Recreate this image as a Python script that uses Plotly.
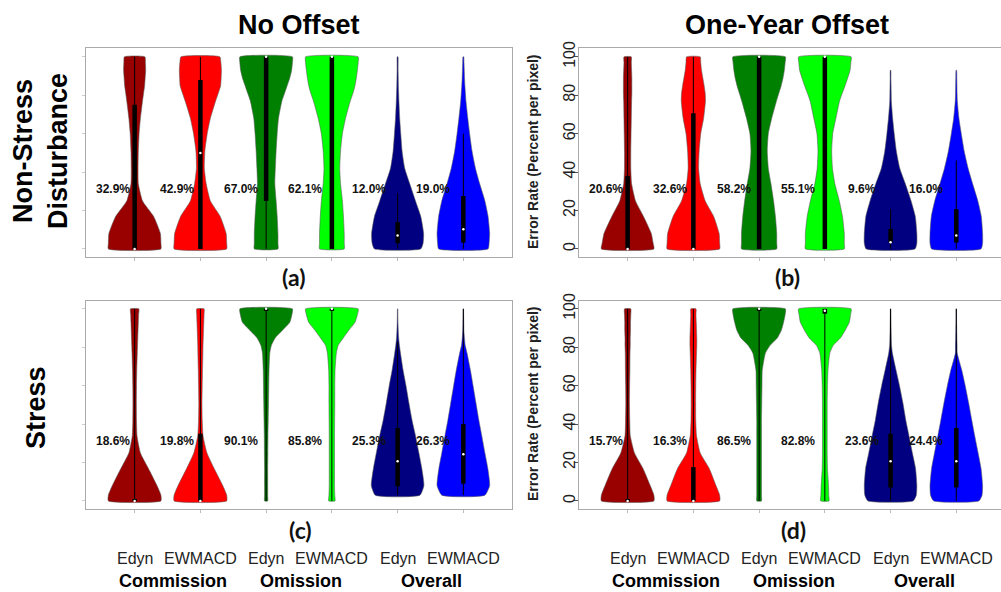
import plotly.graph_objects as go

# ---------------- data ----------------
METHODS = ["Edyn", "EWMACD", "Edyn", "EWMACD", "Edyn", "EWMACD"]
GROUPS = ["Commission", "Omission", "Overall"]
GROUP_POS = [1.58, 3.53, 5.52]
COLORS = ["#990000", "#ff0000", "#008000", "#00ff00", "#000080", "#0000ff"]
COL_TITLES = ["No Offset", "One-Year Offset"]
ROW_TITLES = ["Non-Stress<br>Disturbance", "Stress"]
PANEL_TAGS = ["(a)", "(b)", "(c)", "(d)"]
Y_TICKS = [0, 20, 40, 60, 80, 100]

# density profile levels (error rate, %) and relative half-widths per violin
LEVELS = [0, 3, 8, 17, 25, 34, 42, 51, 60, 68, 77, 81, 85, 89, 93, 97, 100]

WIDTH_A = [
    [1.0, 1.0, 0.98, 0.72, 0.30, 0.14, 0.13, 0.14, 0.17, 0.22, 0.30, 0.34, 0.38, 0.40, 0.42, 0.41, 0.39],
    [1.0, 1.0, 0.98, 0.75, 0.38, 0.22, 0.15, 0.17, 0.26, 0.38, 0.58, 0.68, 0.77, 0.79, 0.80, 0.78, 0.74],
    [0.45, 0.45, 0.45, 0.42, 0.38, 0.33, 0.35, 0.38, 0.42, 0.47, 0.60, 0.70, 0.80, 0.90, 0.97, 1.0, 1.0],
    [0.47, 0.47, 0.47, 0.44, 0.40, 0.33, 0.30, 0.33, 0.40, 0.52, 0.70, 0.80, 0.88, 0.93, 0.97, 1.0, 1.0],
    [0.88, 0.97, 0.99, 0.88, 0.68, 0.46, 0.27, 0.17, 0.12, 0.08, 0.05, 0.04, 0.03, 0.025, 0.02, 0.02, 0.015],
    [0.94, 0.98, 1.0, 0.94, 0.82, 0.62, 0.46, 0.33, 0.24, 0.17, 0.10, 0.08, 0.06, 0.045, 0.035, 0.025, 0.015],
]
WIDTH_B = [
    [1.0, 0.97, 0.90, 0.60, 0.30, 0.15, 0.12, 0.12, 0.13, 0.14, 0.15, 0.16, 0.16, 0.16, 0.15, 0.14, 0.14],
    [1.0, 1.0, 0.98, 0.77, 0.45, 0.26, 0.20, 0.22, 0.28, 0.39, 0.46, 0.45, 0.41, 0.36, 0.31, 0.28, 0.26],
    [0.67, 0.67, 0.67, 0.62, 0.55, 0.45, 0.35, 0.31, 0.35, 0.48, 0.66, 0.75, 0.84, 0.91, 0.96, 0.99, 1.0],
    [0.74, 0.74, 0.74, 0.67, 0.55, 0.38, 0.29, 0.26, 0.30, 0.42, 0.56, 0.66, 0.77, 0.87, 0.96, 0.99, 1.0],
    [0.93, 1.0, 1.0, 0.94, 0.78, 0.56, 0.35, 0.22, 0.14, 0.08, 0.03, 0.025, 0.02, 0.015, 0.01, None, None],
    [0.94, 1.0, 1.0, 0.95, 0.82, 0.62, 0.45, 0.30, 0.19, 0.10, 0.04, 0.03, 0.025, 0.02, 0.01, None, None],
]
WIDTH_C = [
    [1.0, 1.0, 0.85, 0.52, 0.22, 0.09, 0.07, 0.065, 0.07, 0.08, 0.10, 0.11, 0.12, 0.13, 0.14, 0.15, 0.16],
    [1.0, 1.0, 0.85, 0.52, 0.25, 0.10, 0.07, 0.06, 0.07, 0.08, 0.095, 0.10, 0.11, 0.12, 0.13, 0.14, 0.14],
    [0.06, 0.06, 0.06, 0.06, 0.065, 0.07, 0.08, 0.09, 0.10, 0.11, 0.14, 0.20, 0.35, 0.63, 0.90, 0.98, 1.0],
    [0.12, 0.11, 0.10, 0.10, 0.10, 0.10, 0.105, 0.11, 0.11, 0.12, 0.17, 0.24, 0.44, 0.65, 0.88, 0.97, 1.0],
    [None, 0.85, 1.0, 0.92, 0.81, 0.68, 0.55, 0.43, 0.32, 0.21, 0.11, 0.07, 0.04, 0.025, 0.015, 0.01, 0.005],
    [None, 0.82, 1.0, 0.93, 0.82, 0.70, 0.59, 0.48, 0.37, 0.27, 0.14, 0.07, 0.04, 0.02, 0.015, 0.01, 0.005],
]
WIDTH_D = [
    [1.0, 1.0, 0.86, 0.58, 0.26, 0.10, 0.08, 0.07, 0.075, 0.085, 0.09, 0.10, 0.10, 0.11, 0.11, 0.12, 0.12],
    [1.0, 1.0, 0.86, 0.60, 0.26, 0.12, 0.09, 0.085, 0.09, 0.10, 0.12, 0.13, 0.13, 0.12, 0.11, 0.10, 0.10],
    [0.09, 0.09, 0.09, 0.09, 0.09, 0.09, 0.09, 0.10, 0.11, 0.12, 0.24, 0.42, 0.70, 0.85, 0.93, 0.99, 1.0],
    [0.16, 0.15, 0.14, 0.10, 0.09, 0.09, 0.09, 0.09, 0.10, 0.12, 0.19, 0.32, 0.60, 0.78, 0.93, 0.98, 1.0],
    [0.86, 0.98, 1.0, 0.95, 0.83, 0.70, 0.58, 0.47, 0.34, 0.21, 0.07, 0.035, 0.025, 0.02, 0.015, 0.01, 0.005],
    [0.86, 0.98, 1.0, 0.94, 0.83, 0.70, 0.59, 0.47, 0.34, 0.21, 0.035, 0.03, 0.02, 0.015, 0.01, 0.008, 0.005],
]

# box-plot statistics (q1, q3, median, whisker low/high)
Q1_A = [0, 0, 25, 0, 3, 3.3]
Q3_A = [75, 88, 100, 100, 14, 27.6]
MED_A = [0, 50, 100, 100, 7, 10.3]
WLO_A = [0, 0, 0, 0, 0, 0]
WHI_A = [100, 100, 100, 100, 29, 60]

Q1_B = [0, 0, 0, 0, 3.3, 3.3]
Q3_B = [38, 70.6, 100, 100, 10.4, 20.7]
MED_B = [0, 0, 100, 100, 3.5, 7]
WLO_B = [0, 0, 0, 0, 0, 0]
WHI_B = [100, 100, 100, 100, 20.7, 46]

Q1_C = [0, 0, 99, 99, 7.6, 9]
Q3_C = [1, 35, 100, 100, 38, 40]
MED_C = [0, 0, 100, 100, 20.7, 24.3]
WLO_C = [0, 0, 0, 0, 3, 3]
WHI_C = [100, 100, 100, 100, 83, 100]

Q1_D = [0, 0, 99, 97.5, 7, 7]
Q3_D = [1, 17.6, 100, 100, 35, 38]
MED_D = [0, 0, 100, 99, 20.7, 20.7]
WLO_D = [0, 0, 0, 0, 0, 0]
WHI_D = [100, 100, 100, 100, 100, 100]

MEAN_A = ["32.9%", "42.9%", "67.0%", "62.1%", "12.0%", "19.0%"]
MEAN_B = ["20.6%", "32.6%", "58.2%", "55.1%", "9.6%", "16.0%"]
MEAN_C = ["18.6%", "19.8%", "90.1%", "85.8%", "25.3%", "26.3%"]
MEAN_D = ["15.7%", "16.3%", "86.5%", "82.8%", "23.6%", "24.4%"]

# ---------------- figure ----------------
W, H = 1001, 592
WMAX = 0.4
FONT = "Liberation Sans, Arial, sans-serif"

panels = [
    dict(ax="", widths=WIDTH_A, q1=Q1_A, q3=Q3_A, med=MED_A, wlo=WLO_A, whi=WHI_A, means=MEAN_A),
    dict(ax="2", widths=WIDTH_B, q1=Q1_B, q3=Q3_B, med=MED_B, wlo=WLO_B, whi=WHI_B, means=MEAN_B),
    dict(ax="3", widths=WIDTH_C, q1=Q1_C, q3=Q3_C, med=MED_C, wlo=WLO_C, whi=WHI_C, means=MEAN_C),
    dict(ax="4", widths=WIDTH_D, q1=Q1_D, q3=Q3_D, med=MED_D, wlo=WLO_D, whi=WHI_D, means=MEAN_D),
]

fig = go.Figure()
annotations = []

for p in panels:
    xa, ya = "x" + p["ax"], "y" + p["ax"]
    for i in range(6):
        c = i + 1
        pts = [(lv, w) for lv, w in zip(LEVELS, p["widths"][i]) if w is not None]
        ys = [lv for lv, _ in pts]
        ws = [w * WMAX for _, w in pts]
        xs_poly = [c + w for w in ws] + [c - w for w in reversed(ws)] + [c + ws[0]]
        ys_poly = ys + list(reversed(ys)) + [ys[0]]
        fig.add_trace(go.Scatter(
            x=xs_poly, y=ys_poly, xaxis=xa, yaxis=ya, mode="lines",
            fill="toself", fillcolor=COLORS[i],
            line=dict(color="rgba(90,90,90,0.8)", width=0.7, shape="spline", smoothing=0.5),
            hoverinfo="skip", showlegend=False))
        # whisker
        fig.add_trace(go.Scatter(
            x=[c, c], y=[p["wlo"][i], p["whi"][i]], xaxis=xa, yaxis=ya, mode="lines",
            line=dict(color="black", width=1), hoverinfo="skip", showlegend=False))
        # box
        fig.add_trace(go.Scatter(
            x=[c, c], y=[p["q1"][i], p["q3"][i]], xaxis=xa, yaxis=ya, mode="lines",
            line=dict(color="black", width=4.5), hoverinfo="skip", showlegend=False))
        # median
        fig.add_trace(go.Scatter(
            x=[c], y=[p["med"][i]], xaxis=xa, yaxis=ya, mode="markers",
            marker=dict(color="white", size=2.5), hoverinfo="skip", showlegend=False))
        # mean label
        annotations.append(dict(
            x=c - 0.33 - 0.027 * i, y=31, xref=xa, yref=ya, text="<b>%s</b>" % p["means"][i],
            showarrow=False, font=dict(family=FONT, size=12, color="#111"),
            xanchor="center", yanchor="middle"))

# axes layout
xl = [86 / W, 512 / W]
xr = [579 / W, 1.0]
yt = [1 - 257 / H, 1 - 48 / H]
yb = [1 - 509 / H, 1 - 301 / H]

frame = dict(showline=True, linecolor="#aaaaaa", linewidth=1.3,
             showgrid=False, zeroline=False, automargin=False)

def xaxis(dom, rng, anchor):
    return dict(domain=dom, range=rng, anchor=anchor, tickvals=[1, 2, 3, 4, 5, 6],
                ticktext=[""] * 6, ticks="outside", ticklen=3, tickcolor="#bbbbbb",
                mirror=True, **frame)

def yaxis(dom, rng, anchor, labels):
    d = dict(domain=dom, range=rng, anchor=anchor, tickvals=Y_TICKS,
             ticks="outside", ticklen=4, **frame)
    if labels:
        d.update(ticktext=[str(v) for v in Y_TICKS], tickangle=-90, tickcolor="#555555",
                 tickfont=dict(family=FONT, size=16, color="#222"), mirror=False,
                 ticklabelstandoff=-8)
    else:
        d.update(ticktext=[""] * len(Y_TICKS), tickcolor="#cccccc", ticklen=3, mirror=True)
    return d

fig.update_layout(
    width=W, height=H, margin=dict(l=0, r=0, t=0, b=0, autoexpand=False),
    paper_bgcolor="white", plot_bgcolor="white", showlegend=False,
    xaxis=xaxis(xl, [0.26, 6.74], "y"),
    yaxis=yaxis(yt, [-4.2, 104.6], "x", False),
    xaxis2=xaxis(xr, [0.26, 6.68], "y2"),
    yaxis2=yaxis(yt, [-4.2, 104.6], "x2", True),
    xaxis3=xaxis(xl, [0.26, 6.74], "y3"),
    yaxis3=yaxis(yb, [-4.2, 104.1], "x3", False),
    xaxis4=xaxis(xr, [0.26, 6.68], "y4"),
    yaxis4=yaxis(yb, [-4.2, 104.1], "x4", True),
)

def px(x):
    return x / W

def py(y):
    return 1 - y / H

# column titles
for t, xc in zip(COL_TITLES, [299, 787]):
    annotations.append(dict(x=px(xc), y=py(25), xref="paper", yref="paper", text="<b>%s</b>" % t,
                            showarrow=False, font=dict(family=FONT, size=27, color="black"),
                            xanchor="center", yanchor="middle"))
# row titles
for t, (xc, yc) in zip(ROW_TITLES, [(40, 151), (36, 408)]):
    annotations.append(dict(x=px(xc), y=py(yc), xref="paper", yref="paper", text="<b>%s</b>" % t,
                            showarrow=False, textangle=-90,
                            font=dict(family=FONT, size=27, color="black"),
                            xanchor="center", yanchor="middle"))
# right-hand y axis titles
for yc in [152, 404]:
    annotations.append(dict(x=px(533), y=py(yc), xref="paper", yref="paper",
                            text="<b>Error Rate (Percent per pixel)</b>", showarrow=False,
                            textangle=-90, font=dict(family=FONT, size=14, color="#222"),
                            xanchor="center", yanchor="middle"))
# panel tags
for t, (xc, yc) in zip(PANEL_TAGS, [(293, 277), (787, 277), (300, 530), (793, 530)]):
    annotations.append(dict(x=px(xc), y=py(yc), xref="paper", yref="paper", text="<b>%s</b>" % t,
                            showarrow=False, font=dict(family="Lato, " + FONT, size=23, color="#111"),
                            xanchor="center", yanchor="middle"))
# category labels under bottom panels
for xa in ["x3", "x4"]:
    for i, m in enumerate(METHODS):
        annotations.append(dict(x=i + 1, y=py(558), xref=xa, yref="paper", text=m,
                                showarrow=False, font=dict(family=FONT, size=16, color="#222"),
                                xanchor="center", yanchor="middle"))
    for g, gp in zip(GROUPS, GROUP_POS):
        annotations.append(dict(x=gp, y=py(581), xref=xa, yref="paper", text="<b>%s</b>" % g,
                                showarrow=False, font=dict(family=FONT, size=18, color="black"),
                                xanchor="center", yanchor="middle"))

fig.update_layout(annotations=annotations)
fig.write_html("out.html", config={"displayModeBar": False},
               post_script="document.body.style.margin='0';document.body.style.overflow='hidden';")
